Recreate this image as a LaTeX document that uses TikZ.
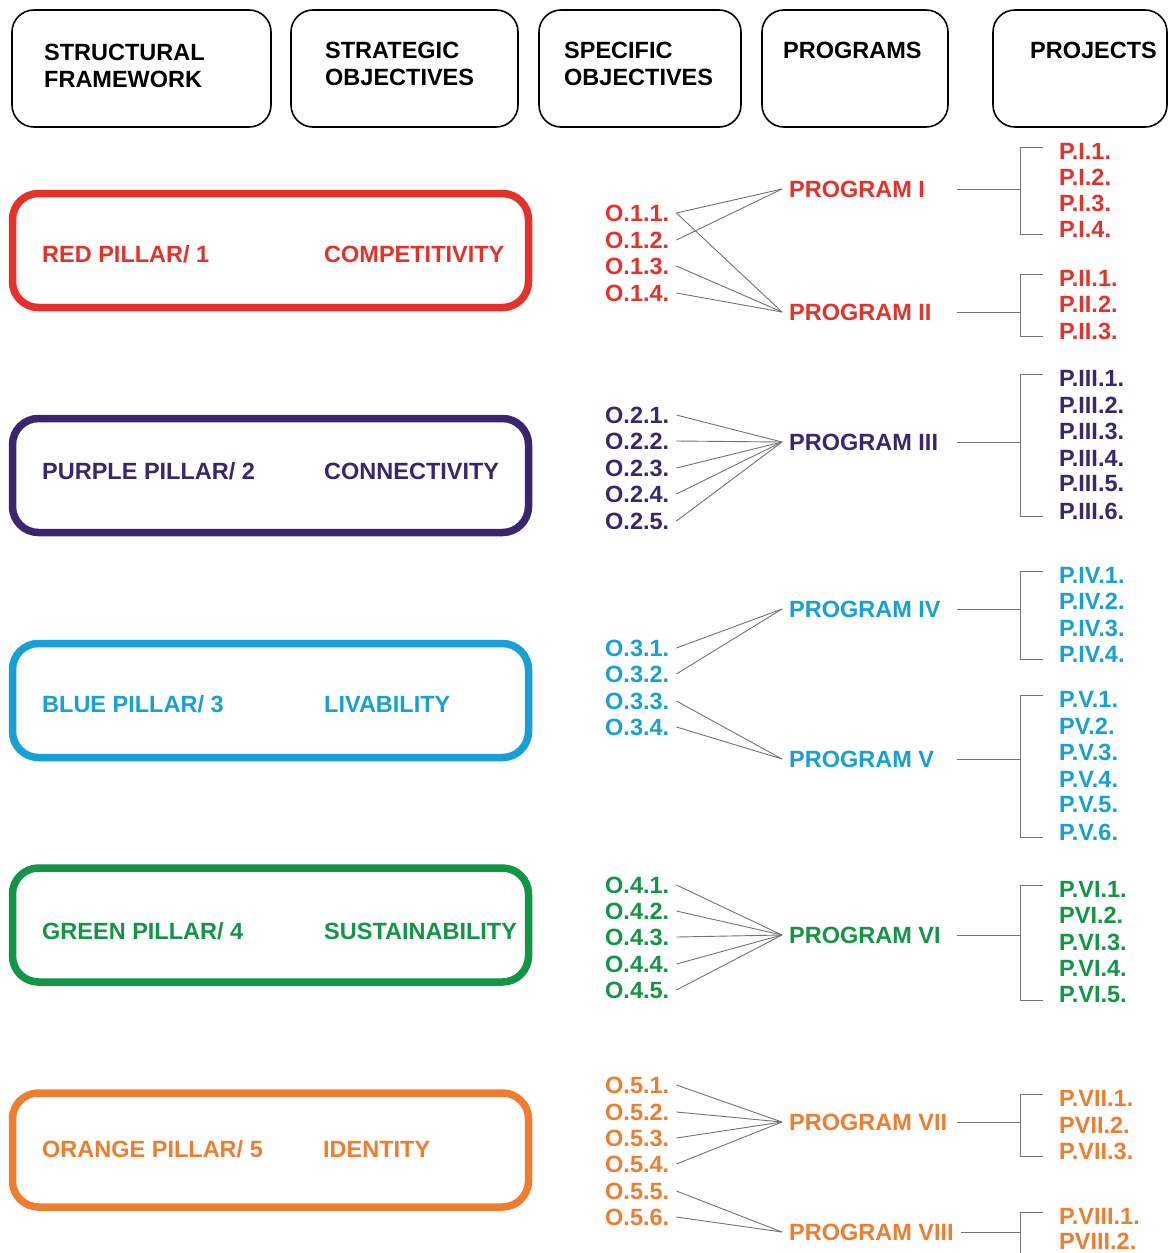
\documentclass[tikz,border=0pt]{standalone}
\usepackage{fontspec}
\setmainfont{Liberation Sans}
\definecolor{cred}{RGB}{228,50,42}
\definecolor{cpur}{RGB}{58,38,112}
\definecolor{cblu}{RGB}{22,160,214}
\definecolor{cgrn}{RGB}{18,150,70}
\definecolor{corg}{RGB}{238,125,48}
\definecolor{cline}{RGB}{115,115,115}
\begin{document}
\begin{tikzpicture}[x=1pt,y=-1pt,
  txt/.style={font=\bfseries\fontsize{23.5}{27}\selectfont, inner sep=0pt, anchor=west},
  hdr/.style={draw=black, line width=1.6pt, rounded corners=22pt, inner sep=0pt},
  pillar/.style={line width=7.5pt, rounded corners=26pt, inner sep=0pt, minimum width=516pt, minimum height=114pt},
  conn/.style={draw=cline, line width=0.9pt},
  obj/.style={txt, inner xsep=7pt},
  prog/.style={txt, inner xsep=7pt}]
\useasboundingbox (0,0) rectangle (1169,1253);
\clip (0,0) rectangle (1169,1253);
\fill[white] (0,0) rectangle (1169,1253);

% header boxes
\node[hdr, minimum width=259pt, minimum height=117pt] (h1) at (141.5,68.5) {};
\node[hdr, minimum width=227pt, minimum height=117pt] (h2) at (404.5,68.5) {};
\node[hdr, minimum width=202pt, minimum height=117pt] (h3) at (640,68.5) {};
\node[hdr, minimum width=186pt, minimum height=117pt] (h4) at (855,68.5) {};
\node[hdr, minimum width=174pt, minimum height=117pt] (h5) at (1080,68.5) {};
\node[txt, align=left] (h1t) at (44,65.5) {STRUCTURAL\\FRAMEWORK};
\node[txt, align=left] (h2t) at (325,63.5) {STRATEGIC\\OBJECTIVES};
\node[txt, align=left] (h3t) at (564,63.5) {SPECIFIC\\OBJECTIVES};
\node[txt] (h4t) at (783,50) {PROGRAMS};
\node[txt] (h5t) at (1030,50) {PROJECTS};

% pillar boxes
\node[pillar, draw=cred] (pl1) at (270.5,250.5) {};
\node[pillar, draw=cpur] (pl2) at (270.5,475.5) {};
\node[pillar, draw=cblu] (pl3) at (270.5,700.5) {};
\node[pillar, draw=cgrn] (pl4) at (270.5,925) {};
\node[pillar, draw=corg] (pl5) at (270.5,1150) {};
\node[txt, text=cred] (pl1a) at (42,254) {RED PILLAR/ 1};
\node[txt, text=cred] (pl1b) at (324,254) {COMPETITIVITY};
\node[txt, text=cpur] (pl2a) at (42,471) {PURPLE PILLAR/ 2};
\node[txt, text=cpur] (pl2b) at (324,471) {CONNECTIVITY};
\node[txt, text=cblu] (pl3a) at (42,704) {BLUE PILLAR/ 3};
\node[txt, text=cblu] (pl3b) at (324,704) {LIVABILITY};
\node[txt, text=cgrn] (pl4a) at (42,931) {GREEN PILLAR/ 4};
\node[txt, text=cgrn] (pl4b) at (324,931) {SUSTAINABILITY};
\node[txt, text=corg] (pl5a) at (42,1149) {ORANGE PILLAR/ 5};
\node[txt, text=corg] (pl5b) at (323,1149) {IDENTITY};

% specific objectives
\foreach \n/\y in {1/213,2/240,3/266,4/293}
  \node[obj, text=cred] (o1\n) at (598,\y) {O.1.\n.};
\foreach \n/\y in {1/415,2/441,3/468,4/494,5/521}
  \node[obj, text=cpur] (o2\n) at (598,\y) {O.2.\n.};
\foreach \n/\y in {1/648,2/674,3/701,4/727}
  \node[obj, text=cblu] (o3\n) at (598,\y) {O.3.\n.};
\foreach \n/\y in {1/885,2/911,3/937,4/964,5/990}
  \node[obj, text=cgrn] (o4\n) at (598,\y) {O.4.\n.};
\foreach \n/\y in {1/1085,2/1112,3/1138,4/1164,5/1191,6/1217}
  \node[obj, text=corg] (o5\n) at (598,\y) {O.5.\n.};

% programs
\node[prog, text=cred] (pI) at (782,189) {PROGRAM I};
\node[prog, text=cred] (pII) at (782,312) {PROGRAM II};
\node[prog, text=cpur] (pIII) at (782,442) {PROGRAM III};
\node[prog, text=cblu] (pIV) at (782,609) {PROGRAM IV};
\node[prog, text=cblu] (pV) at (782,759) {PROGRAM V};
\node[prog, text=cgrn] (pVI) at (782,935) {PROGRAM VI};
\node[prog, text=corg] (pVII) at (782,1122) {PROGRAM VII};
\node[prog, text=corg] (pVIII) at (782,1232) {PROGRAM VIII};

% projects
\foreach \n/\y/\t in {1/151/P.I.1.,2/177/P.I.2.,3/203/P.I.3.,4/229/P.I.4.}
  \node[txt, text=cred] (pI\n) at (1059,\y) {\t};
\foreach \n/\y/\t in {1/278/P.II.1.,2/304/P.II.2.,3/331/P.II.3.}
  \node[txt, text=cred] (pII\n) at (1059,\y) {\t};
\foreach \n/\y/\t in {1/378/P.III.1.,2/405/P.III.2.,3/431/P.III.3.,4/458/P.III.4.,5/484/P.III.5.,6/511/P.III.6.}
  \node[txt, text=cpur] (pIII\n) at (1059,\y) {\t};
\foreach \n/\y/\t in {1/575/P.IV.1.,2/601/P.IV.2.,3/628/P.IV.3.,4/654/P.IV.4.}
  \node[txt, text=cblu] (pIV\n) at (1059,\y) {\t};
\foreach \n/\y/\t in {1/699/P.V.1.,2/726/PV.2.,3/752/P.V.3.,4/779/P.V.4.,5/805/P.V.5.,6/832/P.V.6.}
  \node[txt, text=cblu] (pV\n) at (1059,\y) {\t};
\foreach \n/\y/\t in {1/889/P.VI.1.,2/915/PVI.2.,3/942/P.VI.3.,4/968/P.VI.4.,5/995/P.VI.5.}
  \node[txt, text=cgrn] (pVI\n) at (1059,\y) {\t};
\foreach \n/\y/\t in {1/1098/P.VII.1.,2/1125/PVII.2.,3/1151/P.VII.3.}
  \node[txt, text=corg] (pVII\n) at (1059,\y) {\t};
\foreach \n/\y/\t in {1/1216/P.VIII.1.,2/1241/PVIII.2.}
  \node[txt, text=corg] (pVIII\n) at (1059,\y) {\t};

% objective -> program connectors
\foreach \a/\b in {o11/pI,o11/pII,o12/pI,o13/pII,o14/pII,
                   o21/pIII,o22/pIII,o23/pIII,o24/pIII,o25/pIII,
                   o31/pIV,o32/pIV,o33/pV,o34/pV,
                   o41/pVI,o42/pVI,o43/pVI,o44/pVI,o45/pVI,
                   o51/pVII,o52/pVII,o53/pVII,o54/pVII,o55/pVIII,o56/pVIII}
  \draw[conn] (\a.east) -- (\b.west);

% program -> project brackets
\coordinate (bx) at (957,0);
\coordinate (bv) at (1020,0);
\foreach \p/\f/\l in {pI/pI1/pI4,pII/pII1/pII3,pIII/pIII1/pIII6,pIV/pIV1/pIV4,
                      pV/pV1/pV6,pVI/pVI1/pVI5,pVII/pVII1/pVII3}{
  \draw[conn] (\p -| bx) -- (\p -| bv);
  \draw[conn] ([xshift=-16pt,yshift=4pt]\f.west) -| (\p -| bv)
              |- ([xshift=-16pt,yshift=-5pt]\l.west);
}
\draw[conn] (pVIII.east) -- (pVIII -| bv);
\draw[conn] ([xshift=-16pt,yshift=4pt]pVIII1.west) -| (pVIII -| bv) -- ++(0,40);
\end{tikzpicture}
\end{document}
